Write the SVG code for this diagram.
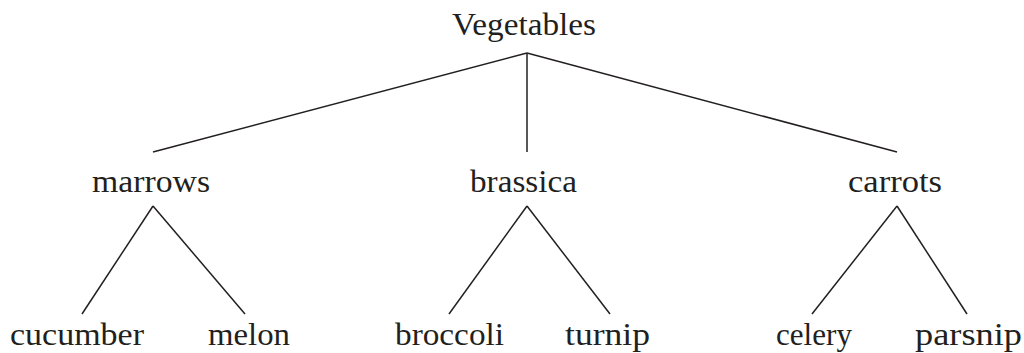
<svg xmlns="http://www.w3.org/2000/svg" width="1024" height="353" viewBox="0 0 1024 353">
<style>
text{font-family:"Liberation Serif","DejaVu Serif",serif;font-size:32px;fill:#231f20;}
.e{stroke:#231f20;stroke-width:1.5;fill:none;}
</style>
<rect width="1024" height="353" fill="#ffffff"/>
<g id="connectors">
<line class="e" x1="527" y1="53" x2="153" y2="152"/>
<line class="e" x1="527" y1="53" x2="527" y2="152"/>
<line class="e" x1="527" y1="53" x2="897" y2="152"/>
<line class="e" x1="153" y1="206" x2="82" y2="314"/>
<line class="e" x1="153" y1="206" x2="245" y2="314"/>
<line class="e" x1="527" y1="206" x2="449" y2="314"/>
<line class="e" x1="527" y1="206" x2="610" y2="314"/>
<line class="e" x1="897" y1="206" x2="812" y2="314"/>
<line class="e" x1="897" y1="206" x2="967" y2="314"/>
</g>
<g id="vegetables"><text x="452" y="35" textLength="144" lengthAdjust="spacingAndGlyphs">Vegetables</text></g>
<g id="marrows"><text x="92" y="192" textLength="118" lengthAdjust="spacingAndGlyphs">marrows</text></g>
<g id="brassica"><text x="470" y="192" textLength="107" lengthAdjust="spacingAndGlyphs">brassica</text></g>
<g id="carrots"><text x="848" y="192" textLength="94" lengthAdjust="spacingAndGlyphs">carrots</text></g>
<g id="cucumber"><text x="10" y="345" textLength="134" lengthAdjust="spacingAndGlyphs">cucumber</text></g>
<g id="melon"><text x="208" y="345" textLength="82" lengthAdjust="spacingAndGlyphs">melon</text></g>
<g id="broccoli"><text x="395" y="345" textLength="109" lengthAdjust="spacingAndGlyphs">broccoli</text></g>
<g id="turnip"><text x="565" y="345" textLength="85" lengthAdjust="spacingAndGlyphs">turnip</text></g>
<g id="celery"><text x="776" y="345" textLength="76" lengthAdjust="spacingAndGlyphs">celery</text></g>
<g id="parsnip"><text x="915" y="345" textLength="107" lengthAdjust="spacingAndGlyphs">parsnip</text></g>
</svg>
